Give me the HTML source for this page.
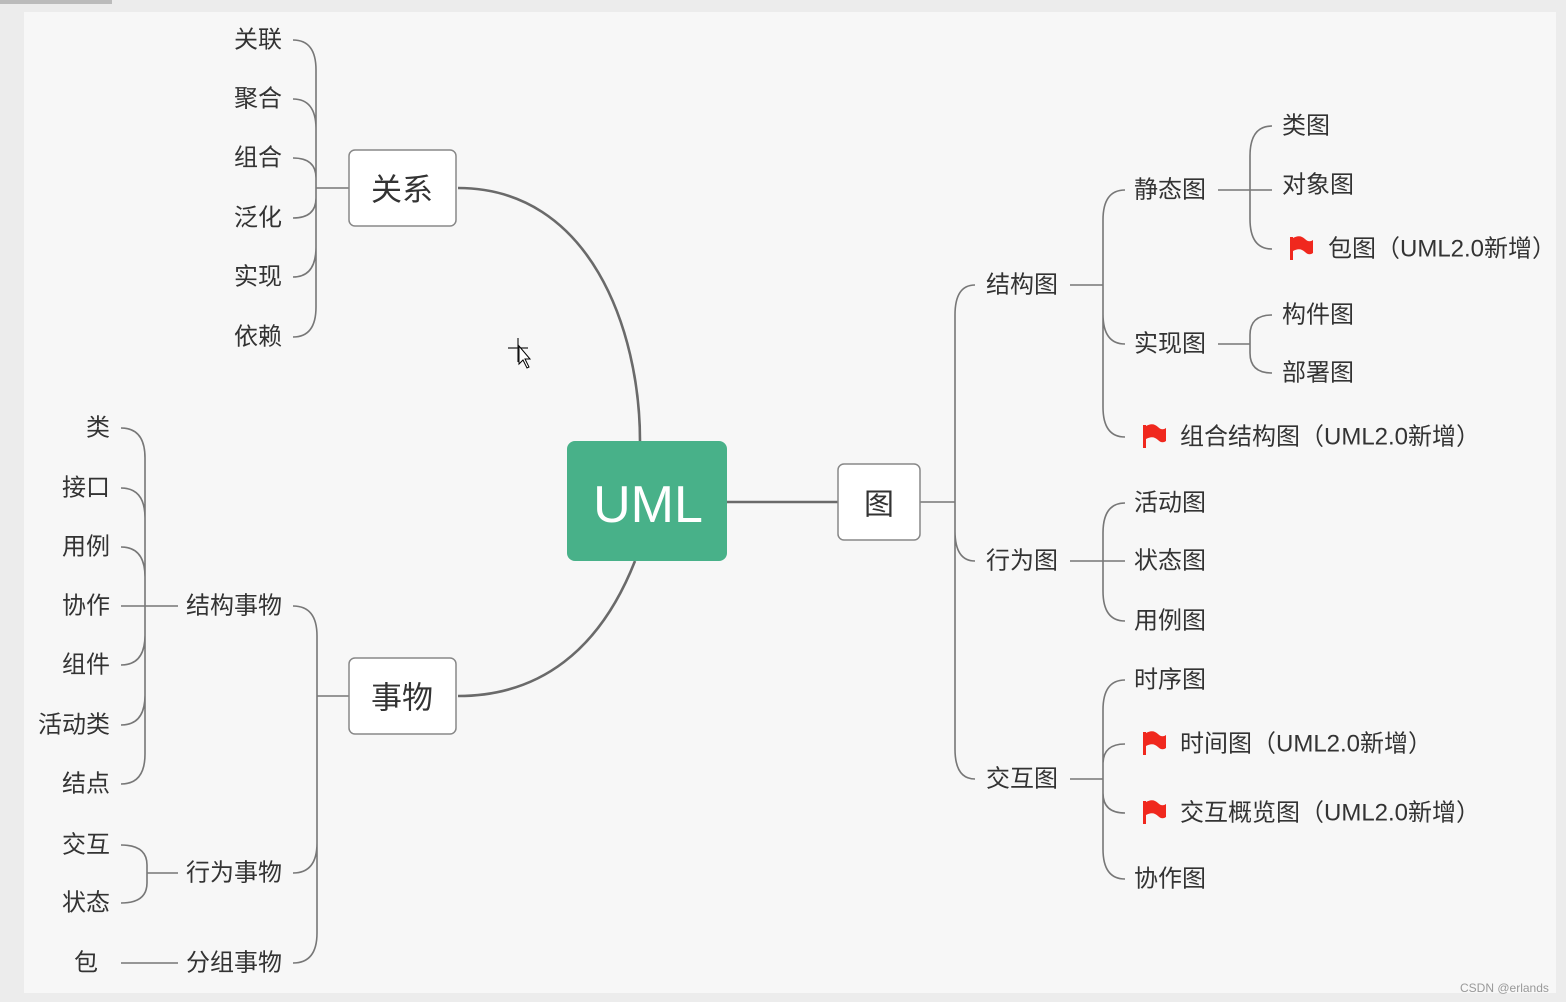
<!DOCTYPE html>
<html><head><meta charset="utf-8"><style>
html,body{margin:0;padding:0;background:#ececec;}
svg{display:block}
text{font-family:"Liberation Sans","Noto Sans CJK SC",sans-serif;fill:#333;dominant-baseline:central}
</style></head><body>
<svg width="1566" height="1002" viewBox="0 0 1566 1002" xmlns="http://www.w3.org/2000/svg">
<rect x="0" y="0" width="1566" height="1002" fill="#ececec"/>
<rect x="0" y="0" width="112" height="4" fill="#bbb"/>
<rect x="24" y="12" width="1532" height="981" fill="#f7f7f7"/>
<g fill="none" stroke="#777" stroke-width="1.6">
<path d="M293,40 Q316,40 316,70 L316,188 M293,99 Q316,99 316,129 L316,188 M293,158 Q316,158 316,178 L316,188 M293,218 Q316,218 316,198 L316,188 M293,277 Q316,277 316,247 L316,188 M293,337 Q316,337 316,307 L316,188 M316,188 L349,188"/>
<path d="M121,428 Q145,428 145,458 L145,606 M121,488 Q145,488 145,518 L145,606 M121,547 Q145,547 145,577 L145,606 M121,606 L178,606 M121,665 Q145,665 145,635 L145,606 M121,725 Q145,725 145,695 L145,606 M121,784 Q145,784 145,754 L145,606"/>
<path d="M121,845 Q147,845 147,865 L147,873 M121,903 Q147,903 147,883 L147,873 M147,873 L178,873 M121,963 L178,963"/>
<path d="M293,606 Q317,606 317,636 L317,696 M293,873 Q317,873 317,843 L317,696 M293,963 Q317,963 317,933 L317,696 M317,696 L349,696"/>
<path d="M920,502 L955,502 M975,285 Q955,285 955,315 L955,502 M975,561 Q955,561 955,531 L955,502 M975,779 Q955,779 955,749 L955,502"/>
<path d="M1070,285 L1103,285 M1125,190 Q1103,190 1103,220 L1103,285 M1125,344 Q1103,344 1103,314 L1103,285 M1125,437 Q1103,437 1103,407 L1103,285"/>
<path d="M1218,190 L1272,190 M1272,126 Q1250,126 1250,156 L1250,190 M1272,249 Q1250,249 1250,219 L1250,190"/>
<path d="M1218,344 L1250,344 M1272,315 Q1250,315 1250,335 L1250,344 M1272,373 Q1250,373 1250,353 L1250,344"/>
<path d="M1070,561 L1125,561 M1125,503 Q1103,503 1103,533 L1103,561 M1125,621 Q1103,621 1103,591 L1103,561"/>
<path d="M1070,779 L1103,779 M1125,680 Q1103,680 1103,710 L1103,779 M1125,744 Q1103,744 1103,764 L1103,779 M1125,813 Q1103,813 1103,793 L1103,779 M1125,879 Q1103,879 1103,849 L1103,779"/>
</g>
<g fill="none" stroke="#6a6a6a" stroke-width="2.6">
<path d="M458,188 C590,188 640,330 640,441"/>
<path d="M635,561 C600,650 540,696 458,696"/>
<path d="M727,502 L838,502"/>
</g>
<rect x="349" y="150" width="107" height="76" rx="6" fill="#fff" stroke="#888" stroke-width="1.5"/>
<text x="402" y="190" font-size="31" text-anchor="middle">关系</text>
<rect x="349" y="658" width="107" height="76" rx="6" fill="#fff" stroke="#888" stroke-width="1.5"/>
<text x="402" y="698" font-size="31" text-anchor="middle">事物</text>
<rect x="567" y="441" width="160" height="120" rx="8" fill="#48b189"/>
<text x="648" y="505" font-size="52" text-anchor="middle" style="fill:#fff">UML</text>
<rect x="838" y="464" width="82" height="76" rx="6" fill="#fff" stroke="#888" stroke-width="1.5"/>
<text x="879" y="505" font-size="30" text-anchor="middle">图</text>
<g font-size="24">
<text x="234" y="40">关联</text><text x="234" y="99">聚合</text><text x="234" y="158">组合</text>
<text x="234" y="218">泛化</text><text x="234" y="277">实现</text><text x="234" y="337">依赖</text>
<text x="110" y="428" text-anchor="end">类</text><text x="110" y="488" text-anchor="end">接口</text>
<text x="110" y="547" text-anchor="end">用例</text><text x="110" y="606" text-anchor="end">协作</text>
<text x="110" y="665" text-anchor="end">组件</text><text x="110" y="725" text-anchor="end">活动类</text>
<text x="110" y="784" text-anchor="end">结点</text><text x="110" y="845" text-anchor="end">交互</text>
<text x="110" y="903" text-anchor="end">状态</text><text x="98" y="963" text-anchor="end">包</text>
<text x="186" y="606">结构事物</text><text x="186" y="873">行为事物</text><text x="186" y="963">分组事物</text>
<text x="986" y="285">结构图</text><text x="986" y="561">行为图</text><text x="986" y="779">交互图</text>
<text x="1134" y="190">静态图</text><text x="1134" y="344">实现图</text>
<text x="1180" y="437">组合结构图（UML2.0新增）</text>
<text x="1282" y="126">类图</text><text x="1282" y="185">对象图</text>
<text x="1328" y="249">包图（UML2.0新增）</text>
<text x="1282" y="315">构件图</text><text x="1282" y="373">部署图</text>
<text x="1134" y="503">活动图</text><text x="1134" y="561">状态图</text><text x="1134" y="621">用例图</text>
<text x="1134" y="680">时序图</text>
<text x="1180" y="744">时间图（UML2.0新增）</text>
<text x="1180" y="813">交互概览图（UML2.0新增）</text>
<text x="1134" y="879">协作图</text>
</g>
<g fill="#f0281e">
<path d="M1290,237 L1293,237 L1293,260 L1290,260 Z M1293,238 Q1300,234 1305,239 Q1309,243 1313,240 L1313,253 Q1309,256 1305,252 Q1300,247 1293,251 Z"/>
<path d="M1143,425 L1146,425 L1146,448 L1143,448 Z M1146,426 Q1153,422 1158,427 Q1162,431 1166,428 L1166,441 Q1162,444 1158,440 Q1153,435 1146,439 Z"/>
<path d="M1143,732 L1146,732 L1146,755 L1143,755 Z M1146,733 Q1153,729 1158,734 Q1162,738 1166,735 L1166,748 Q1162,751 1158,747 Q1153,742 1146,746 Z"/>
<path d="M1143,801 L1146,801 L1146,824 L1143,824 Z M1146,802 Q1153,798 1158,803 Q1162,807 1166,804 L1166,817 Q1162,820 1158,816 Q1153,811 1146,815 Z"/>
</g>
<path d="M518,338 L518,362 M508,348 L528,348" stroke="#222" stroke-width="1.2"/>
<path d="M519,346 L519,364 L523,360 L527,368 L529,367 L525,359 L530,359 Z" fill="#fff" stroke="#000" stroke-width="1"/>
<text x="1460" y="988" font-size="12" style="fill:#999">CSDN @erlands</text>
</svg>
</body></html>
